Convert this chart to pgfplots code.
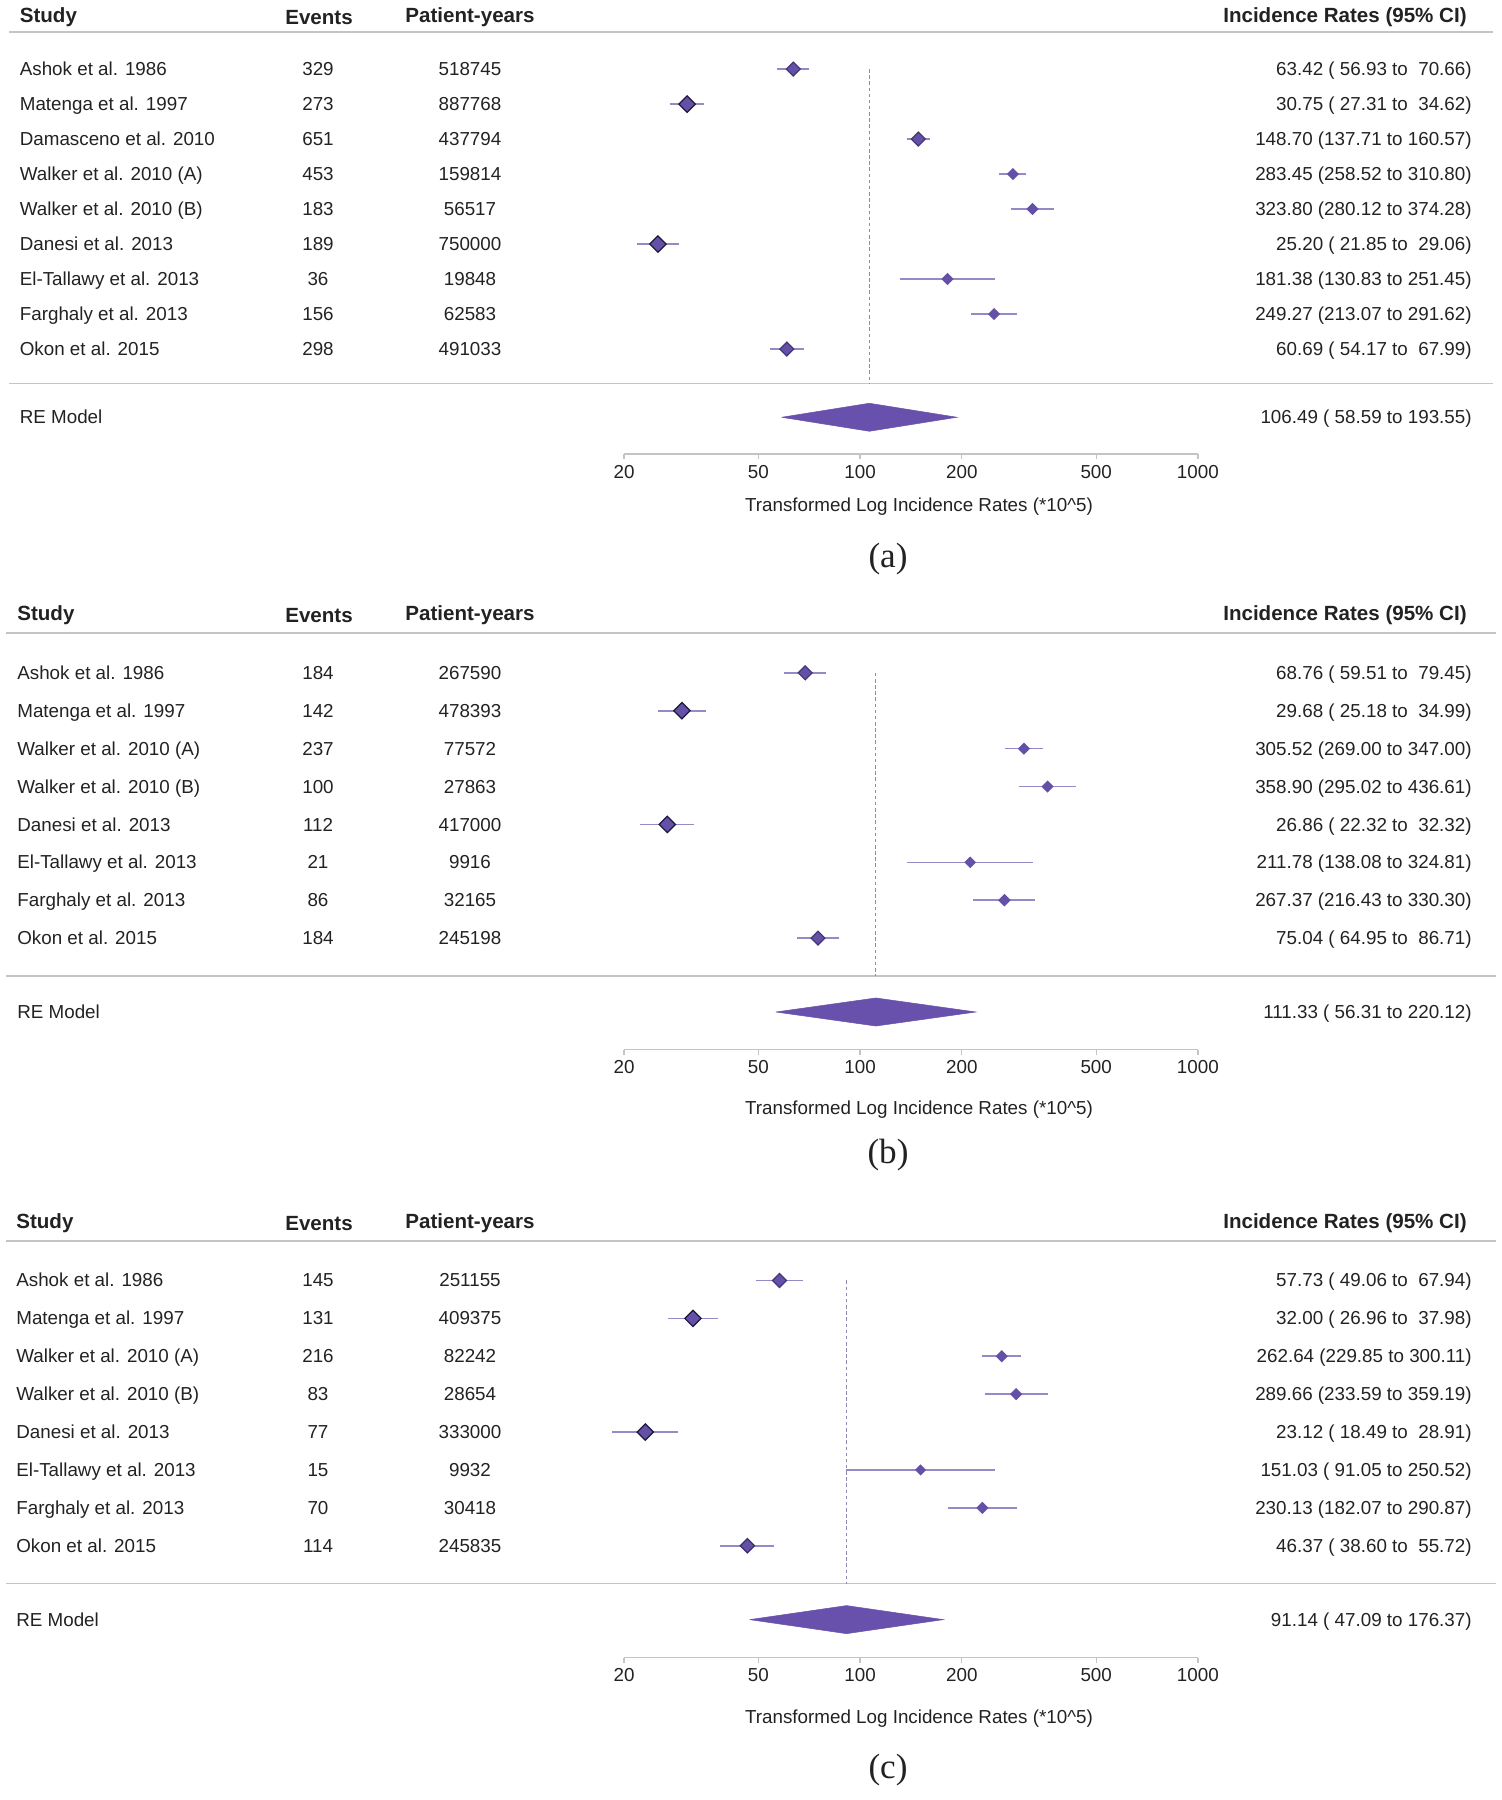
\documentclass[border=0pt]{standalone}
\usepackage{pgfplots}
\pgfplotsset{compat=1.18}
\usepackage{pgfplotstable}
\usepackage{fontspec}
\setmainfont{Liberation Sans}
\newfontfamily\capfont{Liberation Serif}

\definecolor{mfill}{HTML}{6550A8}
\definecolor{mdark}{HTML}{1E1838}
\definecolor{cicol}{HTML}{958AC6}
\definecolor{refill}{HTML}{6851AC}
\definecolor{dashcol}{HTML}{8F88B0}
\definecolor{rulecol}{HTML}{C4C4C4}
\definecolor{txt}{HTML}{222222}

% k = row, est = rate, s = half side of marker (pt), b = % dark edge
\pgfplotstableread{
k est s b
1 63.42 2.8 45
2 30.75 3.3 100
3 148.70 2.8 45
4 283.45 2.1 0
5 323.80 2.1 0
6 25.20 3.3 100
7 181.38 2.1 0
8 249.27 2.1 0
9 60.69 2.8 45
}\tabA
\pgfplotstableread{
k est s b
1 68.76 2.8 45
2 29.68 3.3 100
3 305.52 2.1 0
4 358.90 2.1 0
5 26.86 3.3 100
6 211.78 2.0 0
7 267.37 2.2 0
8 75.04 2.8 45
}\tabB
\pgfplotstableread{
k est s b
1 57.73 2.8 45
2 32.00 3.3 100
3 262.64 2.1 0
4 289.66 2.1 0
5 23.12 3.3 100
6 151.03 1.9 0
7 230.13 2.1 0
8 46.37 2.9 60
}\tabC

\pgfplotsset{
  every axis/.append style={
    scale only axis, width=11.48cm, anchor=south west,
    xmin=20, xmax=1000, ymax=0, clip=false,
    axis x line*=bottom, axis y line=none,
    axis line style={-, rulecol, line width=0.8pt},
    xtick={20,50,100,200,500,1000},
    xticklabels={20,50,100,200,500,1000},
    minor xtick={},
    tick align=outside, major tick length=0.1cm,
    tick style={rulecol, line width=0.8pt},
    every tick label/.append style={font=\fontsize{10.7}{12}\selectfont, text=txt},
  },
  dmarks/.style={scatter, only marks, mark=square*, point meta=\thisrow{s},
    visualization depends on={\thisrow{s} \as \ms},
    visualization depends on={\thisrow{b} \as \bw},
    scatter/use mapped color={fill=mfill, draw=mdark!\bw!mfill},
    scatter/@pre marker code/.append style={/tikz/mark size=\ms pt},
    mark options={rotate=45, line width=0.7pt}},
}

% #1 centre y (px), #2 left x of study, #3 study, #4 events, #5 patient-years, #6 rate
\newcommand{\trow}[6]{%
  \node[tl] at (#2,#1+6.8) {#3};
  \node[tc] at (318,#1+6.8) {#4};
  \node[tc] at (470,#1+6.8) {#5};
  \node[tr] at (1472,#1+6.8) {#6};
}
\newcommand{\thead}[2]{%
  \node[hl] at (#2,#1+7.4) {Study};
  \node[hc] at (319,#1+9.4) {Events};
  \node[hc] at (470,#1+7.4) {Patient-years};
  \node[hr] at (1467,#1+7.4) {Incidence Rates (95\% CI)};
}

\begin{document}
\begin{tikzpicture}
\begin{scope}[x=0.02cm, y=-0.02cm, text=txt, inner sep=0pt,
  tl/.style={anchor=base west, font=\fontsize{10.7}{12}\selectfont},
  tc/.style={anchor=base, font=\fontsize{10.7}{12}\selectfont},
  tr/.style={anchor=base east, font=\fontsize{10.7}{12}\selectfont},
  hl/.style={anchor=base west, font=\bfseries\fontsize{11.7}{14}\selectfont},
  hc/.style={anchor=base, font=\bfseries\fontsize{11.7}{14}\selectfont},
  hr/.style={anchor=base east, font=\bfseries\fontsize{11.7}{14}\selectfont},
  capt/.style={anchor=center, font=\capfont\fontsize{20}{24}\selectfont}]
  \path (0,0) rectangle (1502,1800);
  \coordinate (pa) at (624,454);
  \coordinate (pb) at (624,1049.5);
  \coordinate (pc) at (624,1657.5);

  % panel (a)
  \thead{15}{19.5}
  \draw[rulecol, line width=1.1pt] (9,32) -- (1493,32);
  \trow{69}{19.5}{Ashok et al. 1986}{329}{518745}{63.42 (\ 56.93 to\ \ 70.66)}
  \trow{104}{19.5}{Matenga et al. 1997}{273}{887768}{30.75 (\ 27.31 to\ \ 34.62)}
  \trow{139}{19.5}{Damasceno et al. 2010}{651}{437794}{148.70 (137.71 to 160.57)}
  \trow{174}{19.5}{Walker et al. 2010 (A)}{453}{159814}{283.45 (258.52 to 310.80)}
  \trow{209}{19.5}{Walker et al. 2010 (B)}{183}{56517}{323.80 (280.12 to 374.28)}
  \trow{244}{19.5}{Danesi et al. 2013}{189}{750000}{25.20 (\ 21.85 to\ \ 29.06)}
  \trow{279}{19.5}{El-Tallawy et al. 2013}{36}{19848}{181.38 (130.83 to 251.45)}
  \trow{314}{19.5}{Farghaly et al. 2013}{156}{62583}{249.27 (213.07 to 291.62)}
  \trow{349}{19.5}{Okon et al. 2015}{298}{491033}{60.69 (\ 54.17 to\ \ 67.99)}
  \draw[rulecol, line width=1pt] (9,383.5) -- (1493,383.5);
  \node[tl] at (19.5,423.8) {RE Model};
  \node[tr] at (1472,423.8) {106.49 (\ 58.59 to 193.55)};
  \node[tc] at (919,511.8) {Transformed Log Incidence Rates (*10\textasciicircum 5)};
  \node[capt] at (888,559) {(a)};

  % panel (b)
  \thead{613}{17}
  \draw[rulecol, line width=1.1pt] (6,633) -- (1496,633);
  \trow{673}{17}{Ashok et al. 1986}{184}{267590}{68.76 (\ 59.51 to\ \ 79.45)}
  \trow{711}{17}{Matenga et al. 1997}{142}{478393}{29.68 (\ 25.18 to\ \ 34.99)}
  \trow{749}{17}{Walker et al. 2010 (A)}{237}{77572}{305.52 (269.00 to 347.00)}
  \trow{787}{17}{Walker et al. 2010 (B)}{100}{27863}{358.90 (295.02 to 436.61)}
  \trow{825}{17}{Danesi et al. 2013}{112}{417000}{26.86 (\ 22.32 to\ \ 32.32)}
  \trow{862}{17}{El-Tallawy et al. 2013}{21}{9916}{211.78 (138.08 to 324.81)}
  \trow{900}{17}{Farghaly et al. 2013}{86}{32165}{267.37 (216.43 to 330.30)}
  \trow{938}{17}{Okon et al. 2015}{184}{245198}{75.04 (\ 64.95 to\ \ 86.71)}
  \draw[rulecol, line width=1pt] (6,976) -- (1496,976);
  \node[tl] at (17,1018.8) {RE Model};
  \node[tr] at (1472,1018.8) {111.33 (\ 56.31 to 220.12)};
  \node[tc] at (919,1114.8) {Transformed Log Incidence Rates (*10\textasciicircum 5)};
  \node[capt] at (888,1155) {(b)};

  % panel (c)
  \thead{1221}{16}
  \draw[rulecol, line width=1.1pt] (6,1241) -- (1496,1241);
  \trow{1280}{16}{Ashok et al. 1986}{145}{251155}{57.73 (\ 49.06 to\ \ 67.94)}
  \trow{1318}{16}{Matenga et al. 1997}{131}{409375}{32.00 (\ 26.96 to\ \ 37.98)}
  \trow{1356}{16}{Walker et al. 2010 (A)}{216}{82242}{262.64 (229.85 to 300.11)}
  \trow{1394}{16}{Walker et al. 2010 (B)}{83}{28654}{289.66 (233.59 to 359.19)}
  \trow{1432}{16}{Danesi et al. 2013}{77}{333000}{23.12 (\ 18.49 to\ \ 28.91)}
  \trow{1470}{16}{El-Tallawy et al. 2013}{15}{9932}{151.03 (\ 91.05 to 250.52)}
  \trow{1508}{16}{Farghaly et al. 2013}{70}{30418}{230.13 (182.07 to 290.87)}
  \trow{1546}{16}{Okon et al. 2015}{114}{245835}{46.37 (\ 38.60 to\ \ 55.72)}
  \draw[rulecol, line width=1pt] (6,1583.5) -- (1496,1583.5);
  \node[tl] at (16,1626.8) {RE Model};
  \node[tr] at (1472,1626.8) {91.14 (\ 47.09 to 176.37)};
  \node[tc] at (919,1723.8) {Transformed Log Incidence Rates (*10\textasciicircum 5)};
  \node[capt] at (888,1770) {(c)};
\end{scope}

% panel (a) plot
\begin{semilogxaxis}[at={(pa)}, height=8.4cm, ymin=-12]
  \addplot[dashcol, line width=0.6pt, dash pattern=on 2pt off 1.5pt] coordinates {(106.49,-1) (106.49,-10)};
  \addplot[cicol, line width=0.9pt, unbounded coords=jump] coordinates {
    (56.93,-1) (70.66,-1) (nan,nan) (27.31,-2) (34.62,-2) (nan,nan)
    (137.71,-3) (160.57,-3) (nan,nan) (258.52,-4) (310.80,-4) (nan,nan)
    (280.12,-5) (374.28,-5) (nan,nan) (21.85,-6) (29.06,-6) (nan,nan)
    (130.83,-7) (251.45,-7) (nan,nan) (213.07,-8) (291.62,-8) (nan,nan)
    (54.17,-9) (67.99,-9)};
  \addplot[dmarks] table[x=est, y expr=-\thisrow{k}] {\tabA};
  \addplot[fill=refill, draw=refill, line width=0.3pt] coordinates {(58.59,-10.95) (106.49,-10.55) (193.55,-10.95) (106.49,-11.35) (58.59,-10.95)};
\end{semilogxaxis}

% panel (b) plot
\begin{semilogxaxis}[at={(pb)}, height=8.293cm, ymin=-10.94]
  \addplot[dashcol, line width=0.6pt, dash pattern=on 2pt off 1.5pt] coordinates {(111.33,-1) (111.33,-9)};
  \addplot[cicol, line width=0.9pt, unbounded coords=jump] coordinates {
    (59.51,-1) (79.45,-1) (nan,nan) (25.18,-2) (34.99,-2) (nan,nan)
    (269.00,-3) (347.00,-3) (nan,nan) (295.02,-4) (436.61,-4) (nan,nan)
    (22.32,-5) (32.32,-5) (nan,nan) (138.08,-6) (324.81,-6) (nan,nan)
    (216.43,-7) (330.30,-7) (nan,nan) (64.95,-8) (86.71,-8)};
  \addplot[dmarks] table[x=est, y expr=-\thisrow{k}] {\tabB};
  \addplot[fill=refill, draw=refill, line width=0.3pt] coordinates {(56.31,-9.95) (111.33,-9.58) (220.12,-9.95) (111.33,-10.32) (56.31,-9.95)};
\end{semilogxaxis}

% panel (c) plot
\begin{semilogxaxis}[at={(pc)}, height=8.3cm, ymin=-10.95]
  \addplot[dashcol, line width=0.6pt, dash pattern=on 2pt off 1.5pt] coordinates {(91.14,-1) (91.14,-9)};
  \addplot[cicol, line width=0.9pt, unbounded coords=jump] coordinates {
    (49.06,-1) (67.94,-1) (nan,nan) (26.96,-2) (37.98,-2) (nan,nan)
    (229.85,-3) (300.11,-3) (nan,nan) (233.59,-4) (359.19,-4) (nan,nan)
    (18.49,-5) (28.91,-5) (nan,nan) (91.05,-6) (250.52,-6) (nan,nan)
    (182.07,-7) (290.87,-7) (nan,nan) (38.60,-8) (55.72,-8)};
  \addplot[dmarks] table[x=est, y expr=-\thisrow{k}] {\tabC};
  \addplot[fill=refill, draw=refill, line width=0.3pt] coordinates {(47.09,-9.95) (91.14,-9.58) (176.37,-9.95) (91.14,-10.32) (47.09,-9.95)};
\end{semilogxaxis}
\end{tikzpicture}
\end{document}
